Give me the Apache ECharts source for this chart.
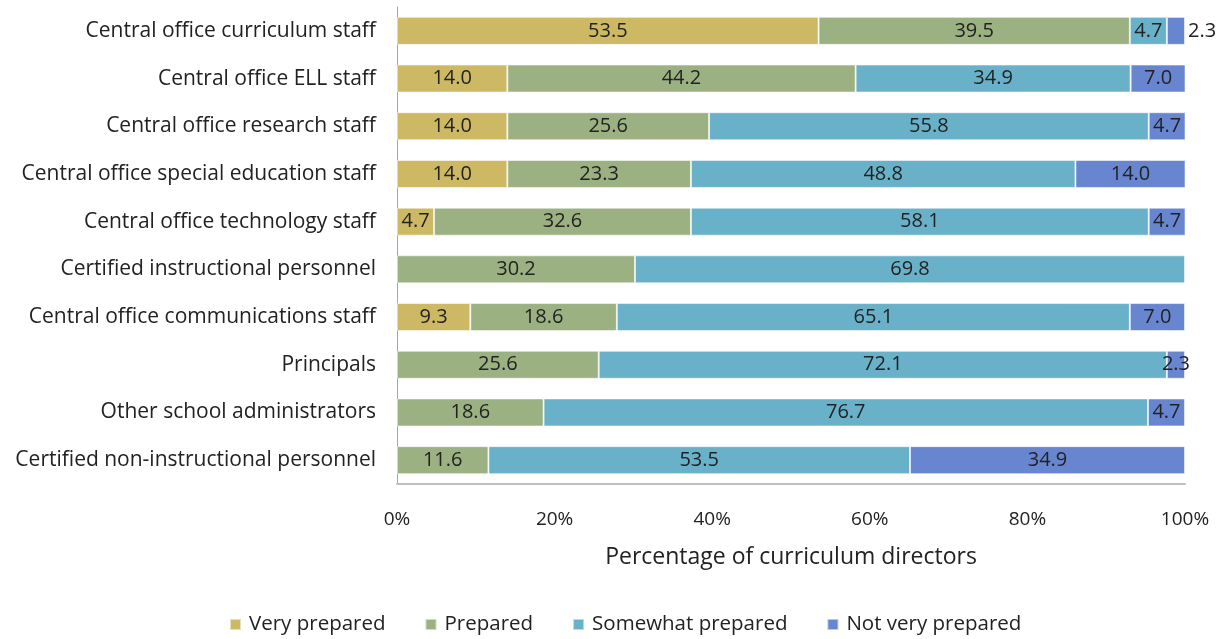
<!DOCTYPE html>
<html>
<head>
<meta charset="utf-8">
<script src="https://cdn.jsdelivr.net/npm/echarts@6/dist/echarts.min.js"></script>
<style>
  html, body { margin: 0; padding: 0; background: #fff; }
  #chart { width: 1222px; height: 639px; }
</style>
</head>
<body>
<div id="chart"></div>
<script>
// Staff groups, listed top to bottom
const categories = [
  'Central office curriculum staff',
  'Central office ELL staff',
  'Central office research staff',
  'Central office special education staff',
  'Central office technology staff',
  'Certified instructional personnel',
  'Central office communications staff',
  'Principals',
  'Other school administrators',
  'Certified non-instructional personnel'
];

// Percent of curriculum directors per preparedness level (null = no segment)
const veryPrepared     = [53.5, 14.0, 14.0, 14.0, 4.7, null, 9.3, null, null, null];
const prepared         = [39.5, 44.2, 25.6, 23.3, 32.6, 30.2, 18.6, 25.6, 18.6, 11.6];
const somewhatPrepared = [4.7, 34.9, 55.8, 48.8, 58.1, 69.8, 65.1, 72.1, 76.7, 53.5];
const notVeryPrepared  = [2.3, 7.0, 4.7, 14.0, 4.7, null, 7.0, 2.3, 4.7, 34.9];

const seriesNames = ['Very prepared', 'Prepared', 'Somewhat prepared', 'Not very prepared'];
const seriesColors = ['#CDB864', '#9BB181', '#69B1C9', '#6885D0'];
const xTicks = [0, 20, 40, 60, 80, 100];

const FONT = '"Open Sans", "Liberation Sans", sans-serif';

function makeSeries(name, values, color, idx) {
  return {
    name: name,
    type: 'bar',
    stack: 'total',
    barWidth: 28,
    itemStyle: { color: color, borderColor: 'rgba(255,255,255,0.55)', borderWidth: 1 },
    label: {
      show: true,
      position: 'inside',
      color: '#222',
      fontFamily: FONT,
      fontSize: 20,
      formatter: p => p.value == null ? '' : Number(p.value).toFixed(1)
    },
    data: values.map((v, i) => {
      // The thin last segment of the first row carries its label just outside
      if (idx === 3 && i === 0) {
        return { value: v, label: { position: 'right', distance: 3 } };
      }
      return v;
    })
  };
}

const chart = echarts.init(document.getElementById('chart'));
chart.setOption({
  animation: false,
  legend: {
    bottom: -1,
    left: 224,
    itemWidth: 11,
    itemHeight: 11,
    itemGap: 39,
    icon: 'rect',
    textStyle: { fontFamily: FONT, fontSize: 20.5, color: '#222', padding: [0, 0, 0, 3] },
    data: seriesNames
  },
  grid: { left: 397, right: 37, top: 7, bottom: 155 },
  xAxis: {
    type: 'value',
    min: 0,
    max: 100,
    interval: 20,
    name: 'Percentage of curriculum directors',
    nameLocation: 'middle',
    nameGap: 62,
    nameTextStyle: { fontFamily: FONT, fontSize: 23, color: '#222' },
    axisLine: { show: true, lineStyle: { color: '#BFBFBF', width: 2 } },
    axisTick: { show: false },
    splitLine: { show: false },
    axisLabel: {
      fontFamily: FONT, fontSize: 19, color: '#222', margin: 26,
      formatter: v => xTicks.includes(v) ? v + '%' : ''
    }
  },
  yAxis: {
    type: 'category',
    inverse: true,
    data: categories,
    axisLine: { show: true, lineStyle: { color: '#A6A6A6', width: 1 } },
    axisTick: { show: false },
    axisLabel: { fontFamily: FONT, fontSize: 21, color: '#222', margin: 21 }
  },
  series: [
    makeSeries(seriesNames[0], veryPrepared, seriesColors[0], 0),
    makeSeries(seriesNames[1], prepared, seriesColors[1], 1),
    makeSeries(seriesNames[2], somewhatPrepared, seriesColors[2], 2),
    makeSeries(seriesNames[3], notVeryPrepared, seriesColors[3], 3)
  ]
});
</script>
</body>
</html>
